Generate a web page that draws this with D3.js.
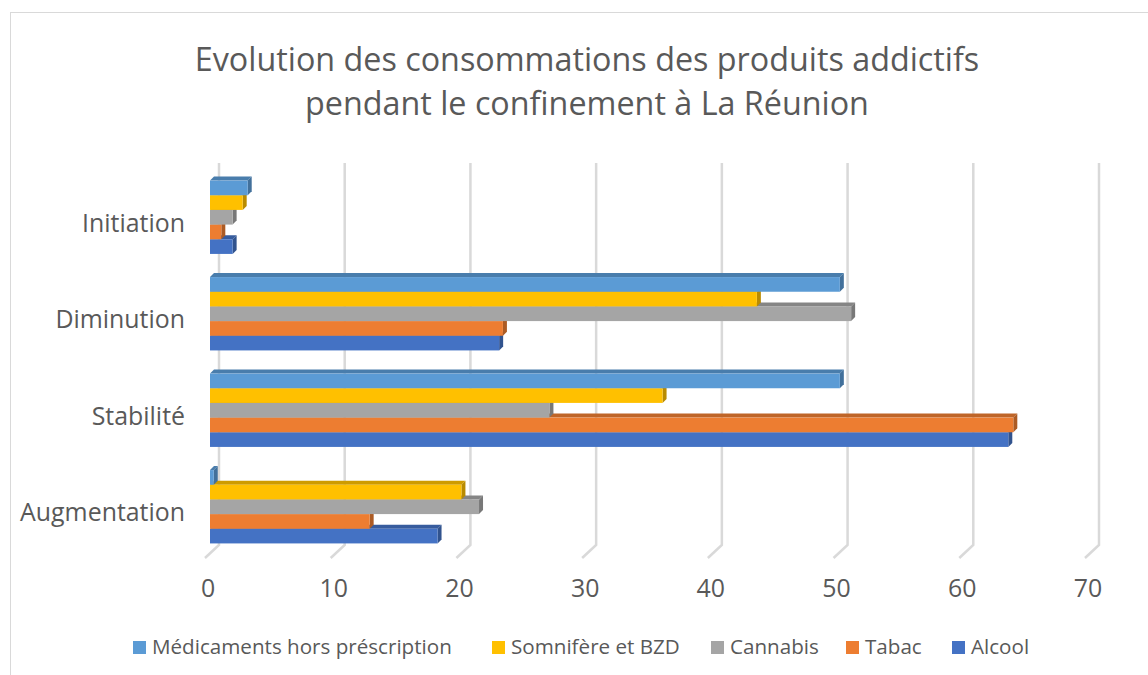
<!DOCTYPE html>
<html>
<head>
<meta charset="utf-8">
<script src="https://cdn.jsdelivr.net/npm/d3@7"></script>
<style>
  body { margin: 0; background: #fff; }
  text { font-family: "Open Sans", sans-serif; fill: #595959; }
</style>
</head>
<body>
<div id="chart"></div>
<script>
// data
const categories = ['Augmentation', 'Stabilité', 'Diminution', 'Initiation'];
const seriesNames = ['Alcool', 'Tabac', 'Cannabis', 'Somnifère et BZD', 'Médicaments hors préscription'];
const alcool = [18.1, 63.5, 23.0, 1.8];
const tabac = [12.7, 63.9, 23.3, 0.9];
const cannabis = [21.4, 27.0, 51.0, 1.8];
const somnifere = [20.0, 36.0, 43.5, 2.6];
const medicaments = [0.3, 50.1, 50.1, 3.0];
const seriesValues = [alcool, tabac, cannabis, somnifere, medicaments];
const seriesColors = ['#4472C4', '#ED7D31', '#A5A5A5', '#FFC000', '#5B9BD5'];
const xTicks = [0, 10, 20, 30, 40, 50, 60, 70];
const legendOrder = ['Médicaments hors préscription', 'Somnifère et BZD', 'Cannabis', 'Tabac', 'Alcool'];

const width = 1148, height = 675;
const svg = d3.select('#chart').append('svg')
  .attr('width', width)
  .attr('height', height);

// chart frame (only top / left edges are inside the picture)
svg.append('rect')
  .attr('x', 10.5).attr('y', 12.5)
  .attr('width', 1200).attr('height', 700)
  .attr('fill', 'none')
  .attr('stroke', '#d9d9d9')
  .attr('stroke-width', 1);

// fit a text element's font size to a target width
function fitText(sel, targetW) {
  const w = sel.node().getComputedTextLength();
  const fs = parseFloat(sel.style('font-size'));
  const nf = fs * targetW / w;
  sel.style('font-size', nf + 'px');
  return nf;
}

// title
const t1 = svg.append('text')
  .attr('x', 587).attr('y', 71)
  .attr('text-anchor', 'middle')
  .style('font-size', '30px')
  .text('Evolution des consommations des produits addictifs');
const titleSize = fitText(t1, 785);
svg.append('text')
  .attr('x', 587).attr('y', 115)
  .attr('text-anchor', 'middle')
  .style('font-size', titleSize + 'px')
  .text('pendant le confinement à La Réunion');

// scales
const depth = 4;            // bar 3D depth
const x = d3.scaleLinear().domain([0, 70]).range([210, 1090]);
const y = d3.scaleBand().domain(categories).range([555, 169])
  .paddingInner(0.24).paddingOuter(0.12);
const ySub = d3.scaleBand().domain(seriesNames).range([y.bandwidth(), 0]);

// 3D gridlines (back wall + floor slant)
const grid = svg.append('g');
xTicks.forEach(v => {
  grid.append('path')
    .attr('d', `M${x(v) + 9},163 L${x(v) + 9},545 L${x(v) - 5},558`)
    .attr('fill', 'none')
    .attr('stroke', '#d9d9d9')
    .attr('stroke-width', 2.5);
});

// category labels
const catLabels = svg.append('g').selectAll('text')
  .data(categories).join('text')
  .attr('x', 185)
  .attr('y', d => y(d) + y.bandwidth() / 2 + 6)
  .attr('dy', '0.35em')
  .attr('text-anchor', 'end')
  .style('font-size', '18px')
  .text(d => d);
const catSize = fitText(catLabels.filter(d => d === 'Augmentation'), 165);
catLabels.style('font-size', catSize + 'px');

// tick labels
svg.append('g').selectAll('text')
  .data(xTicks).join('text')
  .attr('x', d => x(d) - 2)
  .attr('y', 597)
  .attr('text-anchor', 'middle')
  .style('font-size', catSize + 'px')
  .text(d => d);

// bars
const bars = svg.append('g');
categories.forEach((cat, ci) => {
  seriesNames.forEach((s, si) => {
    const v = seriesValues[si][ci];
    const col = d3.color(seriesColors[si]);
    const x0 = x(0), x1 = x(v);
    const y0 = y(cat) + ySub(s), h = ySub.bandwidth();
    const g = bars.append('g');
    // top face
    g.append('path')
      .attr('d', `M${x0},${y0} L${x1},${y0} L${x1 + depth},${y0 - depth} L${x0 + depth},${y0 - depth} Z`)
      .attr('fill', col.darker(0.6));
    // right face
    g.append('path')
      .attr('d', `M${x1},${y0} L${x1 + depth},${y0 - depth} L${x1 + depth},${y0 + h - depth} L${x1},${y0 + h} Z`)
      .attr('fill', col.darker(0.9));
    // front face
    g.append('rect')
      .attr('x', x0).attr('y', y0)
      .attr('width', x1 - x0).attr('height', h)
      .attr('fill', col);
  });
});

// legend (marker positions as laid out in the reference)
const legendX = [133, 492, 711, 846, 952];
const legend = svg.append('g');
const probe = legend.append('text')
  .style('font-size', '18px')
  .text(legendOrder[0]);
const legSize = fitText(probe, 300);
probe.remove();
legendOrder.forEach((name, i) => {
  const si = seriesNames.indexOf(name);
  legend.append('rect')
    .attr('x', legendX[i]).attr('y', 641)
    .attr('width', 13).attr('height', 13)
    .attr('fill', seriesColors[si]);
  legend.append('text')
    .attr('x', legendX[i] + 19).attr('y', 654)
    .style('font-size', legSize + 'px')
    .text(name);
});
</script>
</body>
</html>
